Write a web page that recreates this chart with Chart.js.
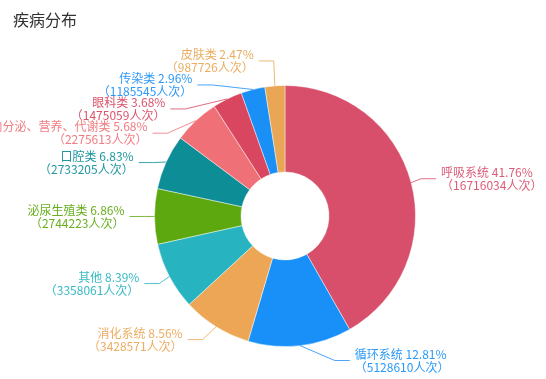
<!DOCTYPE html>
<html>
<head>
<meta charset="utf-8">
<script src="https://cdn.jsdelivr.net/npm/chart.js@4"></script>
<style>
html,body{margin:0;padding:0;background:#fff;}
#wrap{position:relative;width:546px;height:379px;overflow:hidden;}
#c{position:absolute;left:0;top:0;}
#title{position:absolute;left:13px;top:11px;font:16px/16px "Noto Sans CJK SC","Noto Sans",sans-serif;color:#333;white-space:nowrap;}
</style>
</head>
<body>
<div id="wrap">
  <canvas id="c" width="546" height="379"></canvas>
  <div id="title">疾病分布</div>
</div>
<script>
// ---- data ----
const categories = ['呼吸系统', '循环系统', '消化系统', '其他', '泌尿生殖类', '口腔类', '内分泌、营养、代谢类', '眼科类', '传染类', '皮肤类'];
const visits = [16716034, 5128610, 3428571, 3358061, 2744223, 2733205, 2275613, 1475059, 1185545, 987726];
const unitLabel = '人次';

// ---- style ----
const sliceColors = ['#d84f6b', '#1890f7', '#eca655', '#27b4c0', '#5ca80e', '#0d8e97', '#ef7177', '#d8475f', '#1a8ff6', '#e9a654'];

// percentages with largest-remainder rounding (so they sum to 100.00)
function percentLabels(values, precision) {
  const sum = values.reduce((a, b) => a + b, 0);
  const digits = Math.pow(10, precision);
  const target = 100 * digits;
  const scaled = values.map(v => v / sum * target);
  const seats = scaled.map(Math.floor);
  let current = seats.reduce((a, b) => a + b, 0);
  const rema = scaled.map((s, i) => s - seats[i]);
  while (current < target) {
    let max = -Infinity, idx = -1;
    rema.forEach((r, i) => { if (r > max) { max = r; idx = i; } });
    seats[idx]++; rema[idx] = 0; current++;
  }
  return seats.map(s => (s / digits).toFixed(precision));
}
const percents = percentLabels(visits, 2);

// ECharts-style outside label layout with leader lines
function adjustSingleSide(list, cx, cy, r, dir) {
  list.sort((a, b) => a.y - b.y);
  function shiftUp(end, delta) {
    for (let j = end; j >= 0; j--) {
      list[j].y -= delta;
      if (j > 0 && list[j].y > list[j - 1].y + list[j - 1].height) break;
    }
  }
  function shiftDown(start, end, delta) {
    for (let j = start; j < end; j++) {
      list[j].y += delta;
      if (j > start && j + 1 < end && list[j + 1].y > list[j].y + list[j].height) {
        shiftUp(j, delta / 2);
        return;
      }
    }
    shiftUp(end - 1, delta / 2);
  }
  function changeX(sub, isDown) {
    let last = isDown ? Number.MAX_VALUE : 0;
    for (const it of sub) {
      const dY = Math.abs(it.y - cy);
      const R = r + it.len + it.len2;
      let dX = dY < r + it.len ? Math.sqrt(R * R - dY * dY) : Math.abs(it.x - cx);
      if (isDown && dX >= last) dX = last - 10;
      if (!isDown && dX <= last) dX = last + 10;
      it.x = cx + dX * dir;
      last = dX;
    }
  }
  let lastY = 0;
  for (let i = 0; i < list.length; i++) {
    const d = list[i].y - lastY;
    if (d < 0) shiftDown(i, list.length, -d);
    lastY = list[i].y + list[i].height;
  }
  const up = [], down = [];
  list.forEach(it => (it.y >= cy ? down : up).push(it));
  changeX(up, false);
  changeX(down, true);
}

const pieLabels = {
  id: 'pieLabels',
  afterDatasetsDraw(chart) {
    const arcs = chart.getDatasetMeta(0).data;
    if (!arcs.length) return;
    const LEN = 15, LEN2 = 15, DIST = 5, H = 24, LH = 13;
    const cx = arcs[0].x, cy = arcs[0].y, r = arcs[0].outerRadius;
    const items = arcs.map((arc, i) => {
      const mid = (arc.startAngle + arc.endAngle) / 2;
      const dx = Math.cos(mid), dy = Math.sin(mid);
      const x1 = cx + r * dx, y1 = cy + r * dy;
      const x2 = x1 + dx * LEN, y2 = y1 + dy * LEN;
      const dir = dx < 0 ? -1 : 1;
      const x3 = x2 + dir * LEN2;
      return { i, x1, y1, x: x3 + dir * DIST, y: y2, dir, height: H, len: LEN, len2: LEN2 };
    });
    const left = items.filter(o => o.x < cx);
    const right = items.filter(o => o.x >= cx);
    adjustSingleSide(right, cx, cy, r, 1);
    adjustSingleSide(left, cx, cy, r, -1);

    const ctx = chart.ctx;
    ctx.save();
    ctx.font = '12px "Noto Sans CJK SC", "Noto Sans", sans-serif';
    ctx.textBaseline = 'middle';
    items.forEach(it => {
      const col = sliceColors[it.i];
      const x3 = it.x - it.dir * DIST;
      const x2 = x3 - it.dir * LEN2;
      ctx.strokeStyle = col;
      ctx.globalAlpha = 0.8;
      ctx.lineWidth = 1;
      ctx.beginPath();
      ctx.moveTo(it.x1, it.y1);
      ctx.lineTo(x2, it.y);
      ctx.lineTo(x3, it.y);
      ctx.stroke();
      ctx.globalAlpha = 0.92;
      ctx.fillStyle = col;
      ctx.textAlign = it.dir < 0 ? 'right' : 'left';
      ctx.fillText(categories[it.i] + ' ' + percents[it.i] + '%', it.x, it.y - LH / 2);
      ctx.fillText('（' + visits[it.i] + unitLabel + '）', it.x, it.y + LH / 2);
    });
    ctx.restore();
  }
};

new Chart(document.getElementById('c'), {
  type: 'doughnut',
  data: {
    labels: categories,
    datasets: [{
      data: visits,
      backgroundColor: sliceColors,
      borderColor: 'rgba(255,255,255,0.45)',
      borderWidth: 1,
      hoverOffset: 0
    }]
  },
  options: {
    responsive: false,
    animation: false,
    cutout: 44,
    layout: { padding: { top: 85, bottom: 32, left: 154, right: 130 } },
    plugins: {
      legend: { display: false },
      tooltip: { enabled: false },
      title: { display: false }
    }
  },
  plugins: [pieLabels]
});
</script>
</body>
</html>
